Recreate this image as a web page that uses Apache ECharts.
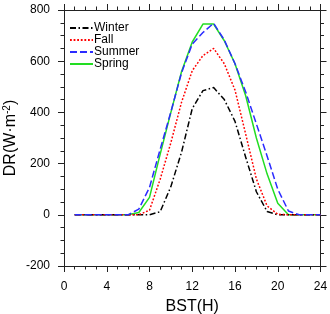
<!DOCTYPE html>
<html>
<head>
<meta charset="utf-8">
<script src="https://cdn.jsdelivr.net/npm/echarts@6/dist/echarts.min.js"></script>
<style>
  html, body { margin: 0; padding: 0; background: #fff; }
  #chart { width: 330px; height: 314px; }
</style>
</head>
<body>
<div id="chart"></div>
<script>
// hourly values
var hours  = [1,2,3,4,5,6,7,8,9,10,11,12,13,14,15,16,17,18,19,20,21,22,23,24];
var winter = [0,0,0,0,0,0,0,0,12,110,245,415,485,497,450,365,225,90,13,0,0,0,0,0];
var fall   = [0,0,0,0,0,0,0,18,139,282,440,563,622,650,590,487,315,140,35,2,0,0,0,0];
var summer = [0,0,0,0,0,0,22,107,256,402,555,667,712,748,683,590,480,355,230,100,15,0,0,0];
var spring = [0,0,0,0,0,0,9,68,237,400,560,675,745,745,680,590,465,300,160,45,0,0,0,0];
var seriesNames = ['Winter', 'Fall', 'Summer', 'Spring'];
var xTicks = [0, 4, 8, 12, 16, 20, 24];
var yTicks = [-200, 0, 200, 400, 600, 800];

var font = '"Liberation Sans", Arial, sans-serif';
var axisColor = '#222';

function pairs(values) {
  return hours.map(function (h, i) { return [h, values[i]]; });
}

function lineSeries(name, values, color, type, z) {
  return {
    name: name,
    type: 'line',
    data: pairs(values),
    symbol: 'none',
    z: z,
    itemStyle: { color: color },
    lineStyle: { color: color, width: 1.5, type: type }
  };
}

var chart = echarts.init(document.getElementById('chart'), null, { renderer: 'canvas' });

var xBase = {
  type: 'value',
  min: xTicks[0],
  max: xTicks[xTicks.length - 1],
  interval: 4,
  axisLine: { show: true, onZero: false, lineStyle: { color: axisColor, width: 1 } },
  axisTick: { show: true, inside: false, length: 6, lineStyle: { color: axisColor } },
  minorTick: { show: true, splitNumber: 4, length: 3.5, lineStyle: { color: axisColor } },
  splitLine: { show: false }
};
var yBase = {
  type: 'value',
  min: yTicks[0],
  max: yTicks[yTicks.length - 1],
  interval: 200,
  axisLine: { show: true, onZero: false, lineStyle: { color: axisColor, width: 1 } },
  axisTick: { show: true, inside: false, length: 6, lineStyle: { color: axisColor } },
  minorTick: { show: true, splitNumber: 4, length: 3.5, lineStyle: { color: axisColor } },
  splitLine: { show: false }
};

var option = {
  animation: false,
  backgroundColor: '#fff',
  textStyle: { fontFamily: font },
  grid: { left: 64, right: 9.5, top: 10, bottom: 48, containLabel: false, outerBoundsMode: 'none' },
  legend: {
    data: seriesNames,
    orient: 'vertical',
    left: 69,
    top: 22,
    padding: 0,
    itemWidth: 23,
    itemHeight: 8,
    itemGap: 0,
    selectedMode: false,
    itemStyle: { opacity: 0 },
    textStyle: { fontFamily: font, fontSize: 12, color: '#000', lineHeight: 11, padding: [0, 0, 0, -4] }
  },
  xAxis: [
    Object.assign({}, xBase, {
      position: 'bottom',
      name: 'BST(H)',
      nameLocation: 'middle',
      nameGap: 33,
      nameMoveOverlap: false,
      nameTextStyle: { fontFamily: font, fontSize: 16, color: '#000' },
      axisLabel: { show: true, margin: 15, fontFamily: font, fontSize: 12, color: '#000' }
    }),
    Object.assign({}, xBase, { position: 'top', axisLabel: { show: false } })
  ],
  yAxis: [
    Object.assign({}, yBase, {
      position: 'left',
      name: 'DR(W·m{sup|-2})',
      nameLocation: 'middle',
      nameGap: 44,
      nameMoveOverlap: false,
      nameTextStyle: {
        fontFamily: font, fontSize: 16, color: '#000', lineHeight: 18,
        rich: { sup: { fontFamily: font, fontSize: 10, color: '#000', verticalAlign: 'top', lineHeight: 18 } }
      },
      axisLabel: { show: true, margin: 14, fontFamily: font, fontSize: 12, color: '#000' }
    }),
    Object.assign({}, yBase, { position: 'right', axisLabel: { show: false } })
  ],
  series: [
    lineSeries('Spring', spring, '#22dd22', 'solid', 2),
    lineSeries('Winter', winter, '#000000', [6, 2.5, 1.5, 2.5], 3),
    lineSeries('Fall', fall, '#ff0000', [1.8, 1.8], 3),
    lineSeries('Summer', summer, '#2b2bff', [7, 3], 4)
  ]
};

chart.setOption(option);
</script>
</body>
</html>
